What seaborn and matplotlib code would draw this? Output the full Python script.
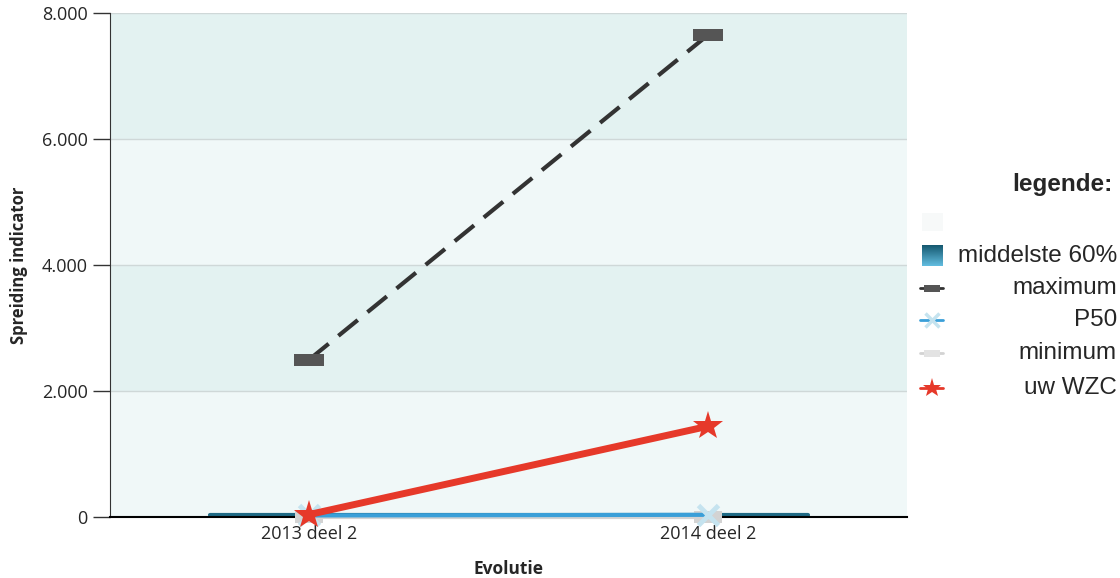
import numpy as np
import pandas as pd
import seaborn as sns
import matplotlib.pyplot as plt
from matplotlib.lines import Line2D
from matplotlib.ticker import FuncFormatter
from matplotlib.colors import LinearSegmentedColormap

# data
periods = ['2013 deel 2', '2014 deel 2']
maximum = [2500, 7650]
p50 = [25, 35]
minimum = [0, 0]
uw_wzc = [40, 1440]
mid60_low = [5, 5]
mid60_high = [45, 45]
yticks = [0, 2000, 4000, 6000, 8000]

sns.set_style("white")
plt.rcParams['font.family'] = ['Open Sans', 'DejaVu Sans']

fig = plt.figure(figsize=(11.2, 5.78), dpi=100)
ax = fig.add_axes([0.0982, 0.1055, 0.7118, 0.872])

df = pd.DataFrame({'periode': periods, 'maximum': maximum, 'P50': p50,
                   'minimum': minimum, 'uw WZC': uw_wzc})

# alternating background bands
band_cols = ['#f0f8f8', '#e3f2f1']
for i in range(len(yticks) - 1):
    ax.axhspan(yticks[i], yticks[i + 1], color=band_cols[i % 2], zorder=0, lw=0)
for yt in yticks[1:]:
    ax.axhline(yt, color='#cfd8d8', lw=1, zorder=1)

# middelste 60% band
xpos = np.arange(len(periods))
ax.bar(xpos, np.array(mid60_high) - np.array(mid60_low), bottom=mid60_low,
       width=0.5, color='#1f6a85', zorder=2, lw=0)
ax.plot([-0.25, 1.25], [np.mean(mid60_high) - 10] * 2, color='#1f6a85', lw=3, zorder=2)

rect = [(-1, -0.42), (1, -0.42), (1, 0.42), (-1, 0.42), (-1, -0.42)]

sns.lineplot(data=df, x='periode', y='minimum', ax=ax, color='#d3d3d3', lw=3,
             marker=rect, markersize=20, markeredgewidth=0, zorder=3, clip_on=False)
sns.lineplot(data=df, x='periode', y='P50', ax=ax, color='#3a9fd8', lw=3,
             marker='x', markersize=15, markeredgewidth=3.5,
             markeredgecolor='#c5e3ef', zorder=4, clip_on=False)
sns.lineplot(data=df, x='periode', y='maximum', ax=ax, color='#333333', lw=3,
             dashes=False, marker=rect, markersize=22, markeredgewidth=0,
             markerfacecolor='#555555', zorder=5)
ax.lines[-1].set_dashes([6, 3])
sns.lineplot(data=df, x='periode', y='uw WZC', ax=ax, color='#e6392a', lw=5,
             marker='*', markersize=22, markeredgewidth=0, zorder=6, clip_on=False)

ax.set_xlim(-0.5, 1.5)
ax.set_ylim(0, 8000)
ax.set_yticks(yticks)
ax.yaxis.set_major_formatter(FuncFormatter(lambda v, p: f'{int(v):,}'.replace(',', '.')))
ax.tick_params(axis='y', length=12, width=1, color='#333333', labelsize=13, pad=4, left=True)
ax.tick_params(axis='x', length=0, labelsize=13, pad=6)
for s in ['top', 'right']:
    ax.spines[s].set_visible(False)
ax.spines['left'].set_color('#333333')
ax.spines['bottom'].set_color('#000000')
ax.spines['bottom'].set_linewidth(1.5)
ax.set_xlabel('Evolutie', fontsize=12.5, fontweight='bold', labelpad=12)
ax.set_ylabel('Spreiding indicator', fontsize=12, fontweight='bold', labelpad=10)

# legend on the right, labels right aligned
W, H = 1120, 578
leg_font = ['Liberation Sans', 'DejaVu Sans']
fig.text(1113 / W, 1 - 184 / H, 'legende:', ha='right', va='center',
         fontsize=17.5, fontweight='bold', family=leg_font)
fig.add_artist(plt.Rectangle((922 / W, 1 - 231 / H), 21 / W, 18 / H,
                             transform=fig.transFigure, color='#f7f9f9', lw=0))
gax = fig.add_axes([922 / W, 1 - 266 / H, 21 / W, 21 / H])
grad = np.linspace(0, 1, 64).reshape(-1, 1)
gcm = LinearSegmentedColormap.from_list('g', ['#15586f', '#62bde0'])
gax.imshow(grad, aspect='auto', cmap=gcm)
gax.axis('off')

entries = [
    ('middelste 60%', 256, None),
    ('maximum', 288, dict(color='#333333', marker=rect, markersize=12, mfc='#555555', mew=0)),
    ('P50', 320, dict(color='#3a9fd8', marker='x', markersize=10, mec='#c5e3ef', mew=2.5)),
    ('minimum', 353, dict(color='#d3d3d3', marker=rect, markersize=12, mfc='#e3e3e3', mew=0)),
    ('uw WZC', 388, dict(color='#e6392a', marker='*', markersize=14, mew=0)),
]
for label, py, style in entries:
    y = 1 - py / H
    if style is not None:
        fig.add_artist(Line2D([920 / W, 943 / W], [y, y], lw=2, transform=fig.transFigure,
                              color=style['color']))
        fig.add_artist(Line2D([931.5 / W], [y], lw=0, transform=fig.transFigure,
                              **style))
    fig.text(1117 / W, y, label, ha='right', va='center', fontsize=17.5, family=leg_font)

fig.savefig('out.png', dpi=100)
